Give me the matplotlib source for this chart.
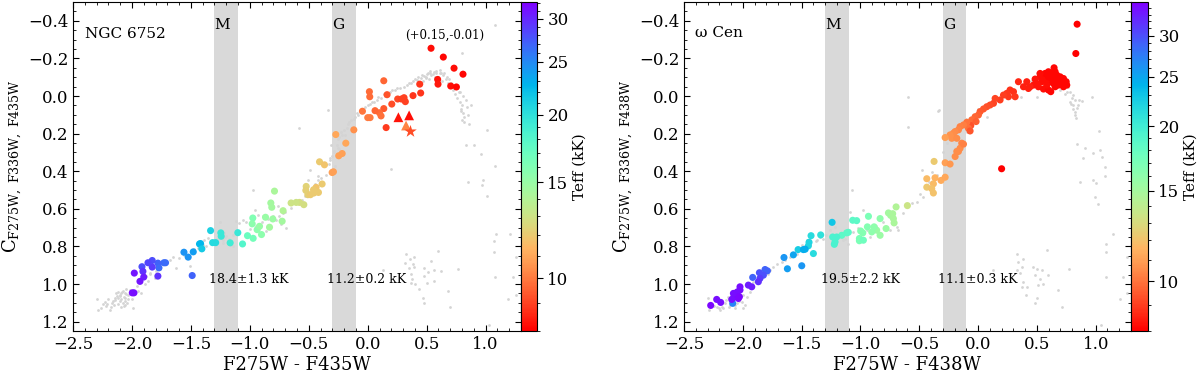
import numpy as np
import matplotlib
matplotlib.use("Agg")
import matplotlib.pyplot as plt
from matplotlib.colors import LogNorm
from matplotlib.cm import ScalarMappable
from matplotlib.ticker import FixedLocator, FuncFormatter, NullFormatter, MultipleLocator

plt.rcParams['font.family'] = ['DejaVu Serif']
plt.rcParams['mathtext.fontset'] = 'dejavuserif'

# ---------------- LEFT PANEL (NGC 6752) ----------------
L_x = [0.537,0.641,0.732,0.808,0.593,0.596,0.704,0.752,
       0.441,0.449,0.384,0.308,0.319,0.254,0.286,0.204,0.156,
       0.136,0.164,0.014,0.017,0.136,0.099,0.062,0.113,-0.045,0.000,0.020,
       -0.118,-0.271,-0.186,-0.246,-0.217,-0.302,-0.291,
       -0.409,-0.367,-0.387,-0.438,-0.460,-0.418,-0.522,-0.525,-0.508,-0.486,-0.457,
       -0.579,-0.542,-0.650,-0.607,
       -0.822,-0.814,-0.791,-0.718,-0.726,-0.975,-0.980,-0.938,-0.918,-0.901,-0.867,-0.833,-0.805,
       -1.062,-1.020,-0.972,
       -1.102,-1.167,-1.246,-1.243,-1.316,-1.290,-1.333,-1.427,-1.418,-1.407,
       -1.559,-1.523,-1.480,-1.489,
       -1.729,-1.715,-1.780,-1.771,-1.780,-1.828,-1.828,-1.864,-1.915,-1.907,-1.900,-1.932,-1.980,-1.997,-1.983]
L_y = [-0.254,-0.207,-0.148,-0.116,-0.088,-0.063,-0.053,-0.048,
       -0.063,-0.016,-0.002,0.009,0.030,0.016,0.016,0.043,0.168,
       -0.081,-0.007,-0.023,0.004,0.067,0.089,0.078,0.106,0.081,0.115,0.115,
       0.180,0.205,0.251,0.318,0.306,0.407,0.403,
       0.350,0.366,0.468,0.486,0.499,0.513,0.481,0.502,0.525,0.525,0.516,
       0.566,0.578,0.569,0.566,
       0.569,0.592,0.506,0.610,0.666,0.649,0.680,0.711,0.693,0.737,0.645,0.698,0.654,
       0.787,0.743,0.757,
       0.727,0.781,0.728,0.746,0.780,0.780,0.716,0.787,0.785,0.813,
       0.831,0.857,0.829,0.955,
       0.887,0.887,0.889,0.914,0.958,0.875,0.910,0.887,0.908,0.933,0.963,0.986,0.942,1.047,1.047]
L_teff = [8.2,8.1,8.2,8.1,8.3,8.4,8.2,8.1,
          8.8,8.8,8.8,9.0,9.0,9.1,9.0,9.2,8.9,
          9.6,9.3,9.7,9.7,9.4,9.7,9.6,9.8,9.9,10.0,10.0,
          10.5,11.0,11.0,10.8,10.8,10.8,10.8,
          12.0,11.8,12.0,11.8,12.0,12.0,12.3,12.2,12.2,12.0,12.0,
          12.8,12.8,13.0,13.0,
          14.5,14.5,14.3,14.0,14.5,16.0,15.5,15.5,15.0,15.5,15.0,14.5,14.8,
          18.0,17.0,16.5,
          19.5,19.0,19.5,19.5,20.5,20.5,21.0,22.5,22.5,21.5,
          24.5,24.5,24.0,27.0,
          26.5,26.5,27.0,26.5,29.5,28.0,29.0,28.5,28.0,29.5,30.5,31.0,31.0,31.5,31.5]

L_tri_x = [0.260, 0.351, 0.325]
L_tri_y = [0.113, 0.103, 0.157]
L_tri_teff = [8.3, 8.2, 10.2]
L_star_x = [0.359]
L_star_y = [0.186]
L_star_teff = [9.2]

gL_x = [-2.133,-2.105,-2.076,-2.062,-2.048,-2.090,-2.119,-2.034,-2.076,-2.147,-2.161,-2.020,-2.048,-2.090,-2.062,-2.105,-2.118,-2.070,-2.040,-2.030,
        -2.297,-2.288,-2.246,-2.218,-2.184,-2.203,-2.167,-1.990,-1.949,-1.921,-1.893,-1.864,-1.845,-1.808,-1.794,-1.766,-1.737,-1.681,-1.653,-1.624,
        -1.506,-1.441,-1.393,-1.370,-1.356,-1.257,-1.229,-1.200,-1.186,-1.158,-1.144,-1.215,-1.116,-1.088,-1.059,-1.031,-0.975,-0.960,-0.932,-0.890,
        -0.862,-0.749,-0.734,-0.692,-0.763,-0.720,-0.777,-1.250,
        -0.486,-0.508,-0.424,-0.395,-0.580,-0.340,-0.310,-0.290,-0.300,-0.320,-0.280,-0.330,-0.270,-0.250,-0.220,-0.210,-0.240,-0.260,
        -0.170,-0.140,-0.110,-0.080,-0.050,-0.020,0.020,0.050,0.080,0.110,0.150,0.190,0.230,0.270,0.310,0.350,0.380,0.400,0.430,0.460,
        0.490,0.510,0.540,0.560,0.580,0.600,0.620,0.640,0.660,0.520,0.470,0.570,0.630,0.680,0.700,0.720,0.740,0.760,0.780,0.800,
        0.790,0.810,0.820,0.800,0.840,0.880,0.760,0.780,
        0.800,1.080,1.010,0.836,0.898,0.963,1.076,0.850,0.977,0.972,1.011,1.085,1.070,1.070,1.203,1.260,1.076,1.231,1.260,1.189,1.028,0.200,
        0.325,0.317,0.362,0.390,0.382,0.353,0.396,0.367,0.376,0.401,0.480,0.514,0.537,0.565,0.593,0.475,0.500,0.565,0.622,0.438,0.466,0.480,0.678,0.763,0.700,0.127,0.367,
        -2.100,-2.085,-2.060,-2.125,-2.140,-2.055,-2.010,-2.000,-2.095,-2.115,-2.070,-2.150,-2.175,-2.230,-2.260,-2.210,-1.960,-1.880,-1.850,-1.760,
        -1.720,-1.600,-1.560,-1.470,-1.400,-1.330,-1.280,-1.240,-1.210,-1.180,-1.260,-1.230,-1.140,-1.000,-0.950,-0.900,-0.850,-0.800,-0.700,-0.650,
        -0.560,-0.530,-0.450,-0.420,-0.350,-0.320,-0.290,-0.260,-0.240,-0.200,-0.180,-0.230,-0.190,-0.250,-0.220,-0.160,-0.120,-0.090,0.000,0.040,
        0.090,0.140,0.210,0.250,0.330,0.370,0.420,0.450,0.480,0.500,0.530,0.550,0.580,0.610,0.650,0.670,0.690,0.610,0.530,0.490,
        0.710,0.730,0.770,0.810,0.830,0.790,0.850,0.820,0.860]
gL_y = [1.047,1.064,1.038,1.073,1.055,1.082,1.073,1.082,1.100,1.073,1.091,1.032,1.029,1.047,1.050,1.090,1.105,1.118,1.100,1.060,
        1.082,1.138,1.108,1.117,1.138,1.078,1.100,1.126,1.038,1.047,1.002,0.985,0.949,0.967,0.932,0.905,0.896,0.870,0.856,0.914,
        0.902,0.808,0.767,0.799,0.755,0.755,0.764,0.743,0.773,0.790,0.799,0.728,0.667,0.675,0.658,0.672,0.502,0.605,0.631,0.640,
        0.720,0.640,0.679,0.702,0.587,0.622,0.658,0.670,
        0.396,0.445,0.428,0.437,0.170,0.074,0.260,0.290,0.320,0.340,0.370,0.360,0.200,0.230,0.210,0.250,0.280,0.310,
        0.150,0.130,0.110,0.100,0.070,0.060,0.040,0.030,0.020,0.010,0.000,-0.020,-0.030,-0.040,-0.050,-0.070,-0.080,-0.090,-0.100,-0.110,
        -0.100,-0.120,-0.110,-0.130,-0.120,-0.100,-0.120,-0.110,-0.090,-0.090,-0.080,-0.100,-0.080,-0.070,-0.050,-0.030,-0.010,0.010,0.030,0.050,
        0.070,0.090,0.110,0.130,0.060,0.050,-0.040,-0.020,
        -0.230,-0.380,0.180,0.258,0.258,0.308,0.373,0.458,0.449,0.472,0.534,0.732,0.773,0.829,0.732,0.856,0.965,0.962,1.060,1.080,1.218,0.389,
        0.843,0.887,0.866,0.856,0.896,0.914,0.909,0.949,0.976,1.002,0.914,0.937,0.879,0.926,0.826,0.958,0.997,0.985,0.932,1.029,1.077,1.100,1.038,0.919,1.121,0.923,0.993,
        1.058,1.040,1.088,1.062,1.085,1.110,1.045,1.078,1.120,1.040,1.068,1.112,1.120,1.095,1.125,1.105,1.010,0.958,0.940,0.918,
        0.878,0.860,0.845,0.815,0.790,0.775,0.762,0.740,0.752,0.758,0.745,0.780,0.742,0.705,0.690,0.670,0.655,0.640,0.615,0.595,
        0.555,0.530,0.470,0.445,0.420,0.330,0.300,0.260,0.220,0.180,0.170,0.190,0.210,0.275,0.300,0.140,0.120,0.090,0.050,0.030,
        0.005,-0.010,-0.030,-0.040,-0.060,-0.070,-0.085,-0.095,-0.105,-0.115,-0.125,-0.115,-0.135,-0.125,-0.120,-0.100,-0.090,-0.140,-0.135,-0.095,
        -0.070,-0.050,-0.020,0.000,0.020,0.080,0.100,0.140,0.150]

# ---------------- RIGHT PANEL (omega Cen) ----------------
R_x = [0.598,0.627,0.669,0.698,0.726,0.740,0.754,0.726,0.683,0.641,0.613,0.584,0.556,0.527,0.570,0.542,0.499,0.471,0.513,0.556,
       0.598,0.618,0.655,0.698,0.669,0.627,0.598,0.655,0.584,0.712,0.749,0.485,0.527,0.646,0.842,0.831,0.200,0.867,
       0.442,0.414,0.386,0.428,
       0.343,0.301,0.272,0.244,0.315,0.258,0.216,0.187,0.145,0.131,0.102,0.074,0.046,0.017,0.003,-0.025,-0.054,-0.017,-0.062,-0.082,
       -0.096,-0.124,-0.153,-0.167,-0.195,-0.210,-0.238,-0.224,-0.280,-0.181,-0.139,-0.153,-0.124,-0.167,-0.181,-0.195,-0.280,-0.238,-0.068,
       -0.374,-0.436,-0.366,-0.436,-0.380,-0.394,-0.380,-0.315,-0.280,-0.601,
       -0.697,-0.762,-0.743,-0.726,-0.720,-0.714,-0.782,-0.833,-0.833,-0.862,-0.941,-0.904,-0.884,-0.932,-1.009,-1.009,-0.975,-0.998,-0.980,
       -1.066,-1.032,-1.159,-1.117,-1.103,
       -1.236,-1.216,-1.222,-1.202,-1.241,
       -1.338,-1.420,-1.443,-1.437,-1.400,-1.530,
       -1.485,-1.470,-1.570,-1.650,-1.621,-1.499,
       -1.791,-1.811,-1.825,-1.859,-1.854,-1.868,-1.916,-1.924,-1.953,-2.024,
       -2.066,-2.046,-2.024,-2.038,-2.058,-2.075,-2.080,-2.029,-2.086,-2.094,-2.188,-2.222,-2.273]
R_y = [-0.129,-0.120,-0.111,-0.102,-0.093,-0.067,-0.058,-0.049,-0.058,-0.067,-0.076,-0.085,-0.093,-0.102,-0.120,-0.076,-0.067,-0.058,-0.049,-0.037,
       -0.032,-0.023,-0.049,-0.067,-0.085,-0.093,-0.102,-0.129,-0.058,-0.085,-0.076,-0.090,-0.120,-0.150,-0.382,-0.226,0.387,-0.515,
       -0.049,-0.076,-0.049,-0.040,
       -0.076,-0.023,-0.032,-0.014,0.004,0.004,-0.005,0.021,0.013,0.039,0.048,0.057,0.069,0.083,0.101,0.110,0.127,0.136,0.157,0.172,
       0.140,0.154,0.163,0.180,0.189,0.198,0.207,0.225,0.221,0.225,0.251,0.278,0.256,0.295,0.295,0.322,0.355,0.362,0.186,
       0.348,0.440,0.435,0.485,0.467,0.493,0.516,0.449,0.432,0.583,
       0.590,0.622,0.635,0.626,0.652,0.675,0.705,0.652,0.741,0.714,0.696,0.723,0.696,0.640,0.758,0.770,0.767,0.718,0.728,
       0.661,0.663,0.741,0.728,0.725,
       0.750,0.776,0.789,0.750,0.672,
       0.739,0.743,0.797,0.778,0.838,0.817,
       0.817,0.815,0.845,0.859,0.919,0.903,
       0.930,0.923,0.953,0.940,0.970,0.988,0.965,1.015,1.006,1.015,
       1.050,1.042,1.032,1.077,1.068,1.068,1.050,1.068,1.103,1.082,1.098,1.082,1.114]
R_teff = [8.1,8.1,8.1,8.1,8.1,8.1,8.1,8.1,8.1,8.1,8.1,8.2,8.2,8.2,8.1,8.2,8.3,8.3,8.3,8.2,
          8.1,8.1,8.1,8.1,8.1,8.1,8.1,8.1,8.2,8.1,8.1,8.3,8.2,8.1,8.0,8.0,8.0,8.0,
          8.5,8.5,8.5,8.5,
          8.6,8.8,8.8,8.9,8.9,8.9,9.0,9.0,9.1,9.1,9.2,9.3,9.4,9.5,9.6,9.7,9.8,9.6,9.3,9.9,
          10.0,10.2,10.3,10.4,10.5,10.6,10.7,10.7,11.0,10.6,10.4,10.5,10.3,10.5,10.6,10.6,11.0,10.8,9.4,
          12.3,11.8,11.5,12.2,11.8,12.0,12.0,11.3,11.2,13.5,
          14.5,15.0,15.0,14.8,14.8,14.8,15.5,16.0,15.5,15.5,16.5,16.0,16.0,17.0,17.0,17.0,17.5,16.5,16.5,
          18.5,18.5,18.5,18.5,18.5,
          19.5,19.5,19.5,19.5,23.0,
          21.0,21.5,22.0,22.0,21.5,22.5,
          24.5,24.5,25.0,26.0,25.5,26.0,
          29.0,29.0,30.0,30.0,31.0,32.0,29.0,33.0,33.0,34.0,
          34.5,34.0,34.0,34.5,34.5,34.5,34.0,34.5,27.0,34.0,34.0,34.0,34.5]

gR_x = [-2.123,-2.095,-2.080,-2.052,-2.109,-2.038,-2.010,-1.981,-2.151,-2.194,-2.222,-2.066,-2.293,-2.285,-2.180,-2.000,
        -1.967,-1.939,-1.882,-1.769,-1.740,-1.712,-1.669,-1.599,-1.542,-1.457,-1.428,-1.372,-1.343,-1.315,-1.258,-1.216,-1.173,-1.145,-1.103,
        -1.088,-1.060,-0.975,-0.947,-0.918,-0.805,-0.748,-0.691,-0.677,-1.075,-0.592,-0.592,-0.521,-0.493,-0.479,-0.465,-0.394,-0.337,-0.329,
        -0.210,-0.195,-0.181,-0.096,0.080,0.363,0.499,0.505,
        0.768,0.783,0.811,0.797,0.825,0.783,0.811,0.839,0.825,0.834,0.854,0.882,0.967,0.754,
        1.024,0.845,0.910,0.975,1.052,1.038,0.890,0.867,0.981,1.003,0.995,1.023,1.080,1.080,1.151,1.088,1.088,1.264,1.088,1.230,1.207,1.264,1.043,
        0.329,0.343,0.385,0.371,0.334,0.357,0.385,0.414,0.371,0.408,0.470,0.499,0.541,0.485,0.527,0.513,0.584,0.598,0.556,0.499,0.485,0.683,0.711,0.777,0.130,
        -2.140,-2.115,-2.070,-2.030,-2.000,-2.165,-2.245,-2.205,-1.910,-1.840,-1.790,-1.640,-1.500,-1.380,-1.290,-1.190,-1.130,-1.020,-0.870,-0.720,
        -0.640,-0.560,-0.420,-0.350,-0.300,-0.260,-0.220,-0.150,-0.100,0.000,0.120,0.250,0.400,0.450,0.700,0.740,0.790,0.805,0.820,0.850]
gR_y = [1.068,1.050,1.094,1.103,1.112,1.024,1.094,1.112,1.103,1.139,1.120,1.130,1.077,1.139,1.120,1.130,
        1.068,1.041,0.979,0.926,0.909,0.891,0.882,0.856,0.838,0.767,0.794,0.767,0.750,0.758,0.714,0.697,0.732,0.767,0.785,
        0.617,0.723,0.605,0.714,0.750,0.670,0.714,0.697,0.714,0.502,0.007,0.166,0.564,0.520,0.396,0.538,0.405,0.078,0.074,
        0.233,0.278,0.304,0.189,0.110,0.004,0.004,-0.120,
        -0.049,-0.023,-0.005,0.013,0.021,0.030,0.048,0.066,0.083,0.119,0.021,0.027,0.007,-0.023,
        0.186,0.256,0.274,0.304,0.322,0.286,0.331,0.458,0.449,0.464,0.538,0.573,0.423,0.379,0.732,0.785,0.830,0.856,0.962,0.962,1.082,1.050,1.218,
        0.838,0.882,0.865,0.909,0.927,0.944,0.989,1.015,1.015,1.059,0.909,0.918,0.927,0.953,0.971,1.006,0.821,0.953,0.998,1.077,1.103,1.033,1.121,0.918,0.923,
        1.085,1.120,1.110,1.090,1.060,1.125,1.118,1.130,0.990,0.960,0.945,0.870,0.790,0.770,0.740,0.745,0.760,0.700,0.690,0.660,
        0.620,0.570,0.460,0.420,0.300,0.250,0.210,0.150,0.120,0.070,0.030,-0.010,-0.060,-0.080,-0.030,-0.010,0.040,0.070,0.100,0.050]

# ---------------- drawing ----------------
W, H = 1200, 373
fig = plt.figure(figsize=(W / 100, H / 100), dpi=100)
bottom = 1 - 331 / H
height = 329 / H
axL = fig.add_axes([73 / W, bottom, 448 / W, height])
caxL = fig.add_axes([521 / W, bottom, 16 / W, height])
axR = fig.add_axes([684 / W, bottom, 447 / W, height])
caxR = fig.add_axes([1131 / W, bottom, 17 / W, height])

cmap = plt.get_cmap('rainbow_r')
normL = LogNorm(vmin=8.0, vmax=32.2)
normR = LogNorm(vmin=8.0, vmax=34.9)
gray = '#d4d4d4'
band = '#d9d9d9'


def style_axes(ax, xlabel, ylabel):
    ax.set_xlim(-2.5, 1.3)
    ax.set_ylim(1.25, -0.5)
    ax.xaxis.set_major_locator(MultipleLocator(0.5))
    ax.xaxis.set_minor_locator(MultipleLocator(0.1))
    ax.yaxis.set_major_locator(MultipleLocator(0.2))
    ax.yaxis.set_minor_locator(MultipleLocator(0.05))
    ax.tick_params(which='both', direction='in', top=True, right=True, labelsize=12)
    ax.tick_params(which='major', length=4, width=0.8)
    ax.tick_params(which='minor', length=2, width=0.6)
    ax.set_xlabel(xlabel, fontsize=13, labelpad=2)
    ax.set_ylabel(ylabel, fontsize=13, labelpad=3)
    ax.axvspan(-1.3, -1.1, color=band, zorder=0, lw=0)
    ax.axvspan(-0.3, -0.1, color=band, zorder=0, lw=0)
    ax.text(-1.3, -0.376, 'M', fontsize=11, ha='left', va='center')
    ax.text(-0.3, -0.376, 'G', fontsize=11, ha='left', va='center')


def style_cbar(cax, sm):
    cb = fig.colorbar(sm, cax=cax)
    cb.outline.set_linewidth(0.8)
    cax.yaxis.set_major_locator(FixedLocator([10, 15, 20, 25, 30]))
    cax.yaxis.set_major_formatter(FuncFormatter(lambda v, p: f'{v:.0f}'))
    cax.yaxis.set_minor_locator(FixedLocator([v for v in range(8, 36) if v % 5 != 0]))
    cax.yaxis.set_minor_formatter(NullFormatter())
    cax.tick_params(which='major', labelsize=12, length=4, width=0.8)
    cax.tick_params(which='minor', length=2, width=0.6)
    cb.set_label('Teff (kK)', fontsize=11, labelpad=3)
    return cb

# Left
style_axes(axL, 'F275W - F435W', r'$\mathrm{C_{F275W,\ F336W,\ F435W}}$')
axL.scatter(gL_x, gL_y, s=4, c=gray, lw=0, zorder=1)
axL.scatter(L_x, L_y, s=26, c=L_teff, cmap=cmap, norm=normL, lw=0, zorder=2)
axL.scatter(L_tri_x, L_tri_y, s=50, marker='^', c=L_tri_teff, cmap=cmap, norm=normL, lw=0, zorder=3)
axL.scatter(L_star_x, L_star_y, s=90, marker='*', c=L_star_teff, cmap=cmap, norm=normL, lw=0, zorder=3)
axL.text(-2.40, -0.332, 'NGC 6752', fontsize=11, ha='left', va='center')
axL.text(0.65, -0.323, '(+0.15,-0.01)', fontsize=8.5, ha='center', va='center')
axL.text(-1.347, 0.976, '18.4±1.3 kK', fontsize=9, ha='left', va='center')
axL.text(-0.344, 0.976, '11.2±0.2 kK', fontsize=9, ha='left', va='center')
style_cbar(caxL, ScalarMappable(norm=normL, cmap=cmap))

# Right
style_axes(axR, 'F275W - F438W', r'$\mathrm{C_{F275W,\ F336W,\ F438W}}$')
axR.scatter(gR_x, gR_y, s=4, c=gray, lw=0, zorder=1)
axR.scatter(R_x, R_y, s=26, c=R_teff, cmap=cmap, norm=normR, lw=0, zorder=2)
axR.text(-2.41, -0.334, 'ω Cen', fontsize=11, ha='left', va='center')
axR.text(-1.338, 0.976, '19.5±2.2 kK', fontsize=9, ha='left', va='center')
axR.text(-0.342, 0.976, '11.1±0.3 kK', fontsize=9, ha='left', va='center')
style_cbar(caxR, ScalarMappable(norm=normR, cmap=cmap))

fig.savefig('out.png', dpi=100)
